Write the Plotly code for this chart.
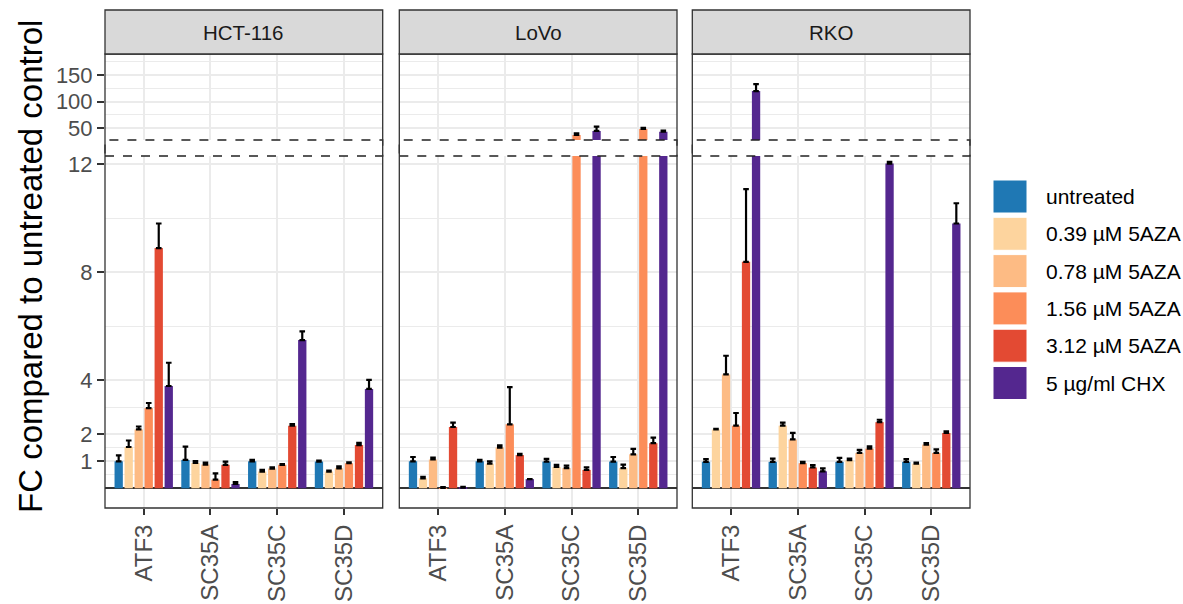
import plotly.graph_objects as go

# ---- data -------------------------------------------------------------
genes = ["ATF3", "SC35A", "SC35C", "SC35D"]
cell_lines = ["HCT-116", "LoVo", "RKO"]
treatments = ["untreated", "0.39 µM 5AZA", "0.78 µM 5AZA",
              "1.56 µM 5AZA", "3.12 µM 5AZA", "5 µg/ml CHX"]
colors = ["#1F78B4", "#FDD49E", "#FDBB84", "#FC8D59", "#E34A33", "#54278F"]

# fold change (rows = treatments, columns = genes) and its SD
hct116_fc = [[1.00, 1.05, 1.00, 0.99],
             [1.53, 0.94, 0.62, 0.62],
             [2.18, 0.88, 0.73, 0.74],
             [2.97, 0.32, 0.87, 0.93],
             [8.90, 0.87, 2.32, 1.60],
             [3.79, 0.16, 5.49, 3.68]]
hct116_sd = [[0.22, 0.49, 0.05, 0.04],
             [0.24, 0.07, 0.06, 0.04],
             [0.11, 0.07, 0.05, 0.07],
             [0.19, 0.23, 0.03, 0.03],
             [0.91, 0.12, 0.06, 0.08],
             [0.86, 0.07, 0.32, 0.34]]

lovo_fc = [[1.00, 1.00, 0.99, 0.99],
           [0.37, 0.91, 0.79, 0.75],
           [1.07, 1.51, 0.75, 1.26],
           [0.01, 2.37, 37.4, 48.7],
           [2.27, 1.23, 0.68, 1.67],
           [0.02, 0.34, 45.0, 43.6]]
lovo_sd = [[0.16, 0.05, 0.10, 0.17],
           [0.05, 0.09, 0.08, 0.13],
           [0.07, 0.08, 0.09, 0.20],
           [0.03, 1.38, 3.2, 2.3],
           [0.16, 0.05, 0.10, 0.21],
           [0.03, 0.00, 8.0, 1.9]]

rko_fc = [[0.98, 0.98, 0.98, 0.98],
          [2.18, 2.32, 1.04, 0.91],
          [4.22, 1.81, 1.31, 1.62],
          [2.32, 0.93, 1.47, 1.31],
          [8.39, 0.77, 2.45, 2.05],
          [119.9, 0.63, 12.03, 9.81]]
rko_sd = [[0.10, 0.12, 0.15, 0.10],
          [0.02, 0.11, 0.06, 0.04],
          [0.69, 0.24, 0.11, 0.05],
          [0.47, 0.05, 0.08, 0.13],
          [2.69, 0.09, 0.09, 0.06],
          [13.1, 0.11, 0.06, 0.75]]

lower_ticks = [1, 2, 4, 8, 12]
lower_minor = [0.5, 1.5, 3, 6, 10]
upper_ticks = [50, 100, 150]
upper_minor = [75, 125, 175]
lower_range = [-0.73, 12.31]
upper_range = [28.05, 189.4]

fc_sets = [hct116_fc, lovo_fc, rko_fc]
sd_sets = [hct116_sd, lovo_sd, rko_sd]

# ---- geometry (pixels -> paper) -------------------------------------
W, H = 1183, 604
FONT = "Liberation Sans, Arial, Helvetica, sans-serif"


def fx(x):
    return x / W


def fy(y):
    return 1 - y / H


panels_px = [(105, 382.7), (399.3, 677), (692.3, 970)]
panel_top, panel_bottom = 54, 508
strip_top = 10
gap_top, gap_bottom = 140, 156

fig = go.Figure()

for j in range(3):
    xa = "x" if j == 0 else f"x{j + 1}"
    ya_low = "y" if j == 0 else f"y{j + 1}"
    ya_up = f"y{j + 4}"
    for k, name in enumerate(treatments):
        for ya in (ya_low, ya_up):
            fig.add_trace(go.Bar(
                x=genes, y=fc_sets[j][k], name=name,
                marker=dict(color=colors[k], line=dict(width=0)),
                error_y=dict(type="data", array=sd_sets[j][k],
                             arrayminus=[0] * len(genes), symmetric=False,
                             color="black", thickness=2.2, width=2.8),
                xaxis=xa, yaxis=ya, showlegend=False,
                offsetgroup=str(k), legendgroup=name,
            ))

layout = dict(
    width=W, height=H, template="none",
    margin=dict(l=0, r=0, t=0, b=0, pad=0),
    paper_bgcolor="white", plot_bgcolor="white",
    barmode="group", bargap=0.1, bargroupgap=0.17,
    font=dict(family=FONT, color="#4D4D4D"),
    showlegend=False,
)

grid = "#EBEBEB"
for j, (x0, x1) in enumerate(panels_px):
    xkey = "xaxis" if j == 0 else f"xaxis{j + 1}"
    ylow = "y" if j == 0 else f"y{j + 1}"
    layout[xkey] = dict(
        domain=[fx(x0), fx(x1)], anchor=ylow, type="category",
        range=[-0.58, 3.58], showgrid=True, gridcolor=grid, gridwidth=2,
        ticks="outside", ticklen=6, tickwidth=1.6, tickcolor="#333333",
        tickangle=-90, tickfont=dict(size=24, color="#4D4D4D", family=FONT),
        showline=False, zeroline=False, automargin=False, fixedrange=True,
    )
    show = j == 0
    ykey_low = "yaxis" if j == 0 else f"yaxis{j + 1}"
    xanchor = "x" if j == 0 else f"x{j + 1}"
    layout[ykey_low] = dict(
        domain=[fy(panel_bottom), fy(gap_bottom)], anchor=xanchor,
        range=lower_range, tickmode="array", tickvals=lower_ticks,
        showticklabels=show, ticks="outside" if show else "",
        ticklen=7, tickwidth=1.6, tickcolor="#333333",
        tickfont=dict(size=22, color="#4D4D4D", family=FONT),
        showgrid=True, gridcolor=grid, gridwidth=2,
        minor=dict(tickmode="array", tickvals=lower_minor, showgrid=True,
                   gridcolor=grid, gridwidth=1, ticks=""),
        zeroline=True, zerolinecolor="#333333", zerolinewidth=2.4,
        showline=False, automargin=False, fixedrange=True,
    )
    layout[f"yaxis{j + 4}"] = dict(
        domain=[fy(gap_top), fy(panel_top)], anchor=xanchor,
        range=upper_range, tickmode="array", tickvals=upper_ticks,
        showticklabels=show, ticks="outside" if show else "",
        ticklen=7, tickwidth=1.6, tickcolor="#333333",
        tickfont=dict(size=22, color="#4D4D4D", family=FONT),
        showgrid=True, gridcolor=grid, gridwidth=2,
        minor=dict(tickmode="array", tickvals=upper_minor, showgrid=True,
                   gridcolor=grid, gridwidth=1, ticks=""),
        zeroline=False, showline=False, automargin=False, fixedrange=True,
    )

shapes = []
annotations = []
for j, (x0, x1) in enumerate(panels_px):
    # white break band with dashed outline
    shapes.append(dict(type="rect", xref="paper", yref="paper",
                       x0=fx(x0), x1=fx(x1), y0=fy(gap_bottom), y1=fy(gap_top),
                       fillcolor="white", layer="above",
                       line=dict(color="#222222", width=1.3, dash="dash")))
    # panel border
    shapes.append(dict(type="rect", xref="paper", yref="paper",
                       x0=fx(x0), x1=fx(x1), y0=fy(panel_bottom), y1=fy(panel_top),
                       fillcolor="rgba(0,0,0,0)", layer="above",
                       line=dict(color="#333333", width=1.3)))
    # facet strip
    shapes.append(dict(type="rect", xref="paper", yref="paper",
                       x0=fx(x0), x1=fx(x1), y0=fy(panel_top), y1=fy(strip_top),
                       fillcolor="#D9D9D9", layer="above",
                       line=dict(color="#333333", width=1.3)))
    annotations.append(dict(text=cell_lines[j], xref="paper", yref="paper",
                            x=fx((x0 + x1) / 2), y=fy((panel_top + strip_top) / 2),
                            showarrow=False, xanchor="center", yanchor="middle",
                            font=dict(size=20.5, color="#1A1A1A", family=FONT)))

# y-axis title
annotations.append(dict(text="FC compared to untreated control",
                        xref="paper", yref="paper", x=fx(30), y=fy(267),
                        textangle=-90, showarrow=False,
                        xanchor="center", yanchor="middle",
                        font=dict(size=33, color="black", family=FONT)))

# legend
key_x0, key_x1 = 993, 1027
key_top0, key_step, key_h = 180, 37.3, 33
for k, name in enumerate(treatments):
    top = key_top0 + k * key_step
    shapes.append(dict(type="rect", xref="paper", yref="paper",
                       x0=fx(key_x0), x1=fx(key_x1), y0=fy(top + key_h), y1=fy(top),
                       fillcolor=colors[k], layer="above",
                       line=dict(color="white", width=1)))
    annotations.append(dict(text=name, xref="paper", yref="paper",
                            x=fx(1044), y=fy(top + key_h / 2),
                            showarrow=False, xanchor="left", yanchor="middle",
                            font=dict(size=21, color="black", family=FONT)))

layout["shapes"] = shapes
layout["annotations"] = annotations
fig.update_layout(**layout)

fig.write_html("out.html")
